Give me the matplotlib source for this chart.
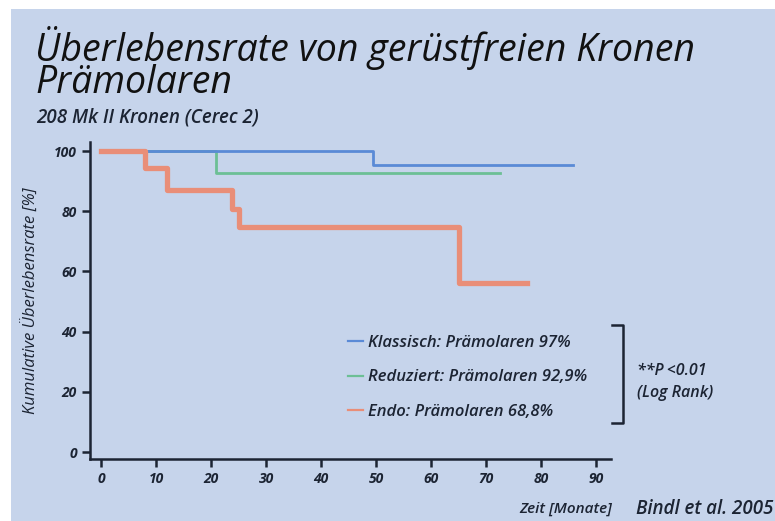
import matplotlib
matplotlib.use("Agg")
import matplotlib.pyplot as plt
from matplotlib.lines import Line2D
from matplotlib.patches import Rectangle

plt.rcParams["font.family"] = ["Open Sans", "DejaVu Sans"]

# Kaplan-Meier step data (months, cumulative survival %)
t_klassisch = [0, 49.4, 85.8]
s_klassisch = [100, 95.3, 95.3]
t_reduziert = [0, 20.9, 72.5]
s_reduziert = [100, 92.8, 92.8]
t_endo = [0, 8.0, 12.0, 23.8, 25.1, 65.1, 77.5]
s_endo = [100, 94.3, 87.0, 80.7, 74.7, 56.1, 56.1]

labels = ["Klassisch: Prämolaren 97%", "Reduziert: Prämolaren 92,9%", "Endo: Prämolaren 68,8%"]
x_ticks = [0, 10, 20, 30, 40, 50, 60, 70, 80, 90]
y_ticks = [0, 20, 40, 60, 80, 100]

BG = "#c6d4eb"
INK = "#1c2433"
C_BLUE, C_GREEN, C_RED = "#5a8ad6", "#6cbf95", "#e98e78"

W, H = 775, 521
fig = plt.figure(figsize=(W / 100, H / 100), dpi=100, facecolor="white")
fig.add_artist(Rectangle((11 / W, 0), 1, 1 - 9 / H, transform=fig.transFigure,
                         facecolor=BG, edgecolor="none", zorder=-10))

def fx(px): return px / W
def fy(py): return 1 - py / H

ax = fig.add_axes([fx(90), fy(459), fx(611) - fx(90), fy(142) - fy(459)])
ax.set_facecolor("none")
ax.set_xlim(-2, 92.7)
ax.set_ylim(-2.3, 103)

ax.step(t_reduziert, s_reduziert, where="post", color=C_GREEN, lw=2.0)
ax.step(t_klassisch, s_klassisch, where="post", color=C_BLUE, lw=2.0)
ax.step(t_endo, s_endo, where="post", color=C_RED, lw=3.8)

for side in ["top", "right"]:
    ax.spines[side].set_visible(False)
for side in ["left", "bottom"]:
    ax.spines[side].set_color(INK)
    ax.spines[side].set_linewidth(1.8)

ax.set_xticks(x_ticks)
ax.set_yticks(y_ticks)
ax.tick_params(axis="both", colors=INK, width=1.8, length=6, labelsize=10)
tick_font = dict(style="italic", weight="bold")
ax.set_xticklabels([str(v) for v in x_ticks], **tick_font)
ax.set_yticklabels([str(v) for v in y_ticks], **tick_font)
ax.set_ylabel("Kumulative Überlebensrate [%]", fontsize=12, style="italic", color=INK, labelpad=10)

handles = [Line2D([], [], color=c, lw=1.6) for c in (C_BLUE, C_GREEN, C_RED)]
leg = ax.legend(handles, labels, loc="upper left", bbox_to_anchor=(fx(333), fy(320)),
                bbox_transform=fig.transFigure, frameon=False, handlelength=0.9,
                handletextpad=0.3, labelspacing=1.1,
                prop=dict(family=["Open Sans", "DejaVu Sans"], style="italic", weight="semibold", size=12))
for txt in leg.get_texts():
    txt.set_color(INK)

# bracket with significance note
bx0, bx1, by0, by1 = fx(612), fx(623), fy(325), fy(423)
fig.add_artist(Line2D([bx0, bx1, bx1, bx0], [by0, by0, by1, by1], color=INK, lw=1.8,
                      transform=fig.transFigure))
fig.text(fx(637), fy(371), "**P\u2009<0.01", fontsize=11.5, style="italic", weight="semibold",
         color=INK, va="center", ha="left")
fig.text(fx(637), fy(393), "(Log Rank)", fontsize=11.5, style="italic", weight="semibold",
         color=INK, va="center", ha="left")

fig.text(fx(35), fy(26), "Überlebensrate von gerüstfreien Kronen\nPrämolaren", fontsize=27,
         style="italic", color="#111111", va="top", ha="left", linespacing=0.78)
fig.text(fx(36), fy(123), "208 Mk II Kronen (Cerec 2)", fontsize=13.5, style="italic",
         weight="semibold", color=INK, va="baseline", ha="left")

fig.text(fx(612), fy(513), "Zeit [Monate]", fontsize=11, style="italic", weight="semibold",
         color=INK, va="baseline", ha="right")
fig.text(fx(636), fy(514), "Bindl et al. 2005", fontsize=13.5, style="italic", weight="semibold",
         color=INK, va="baseline", ha="left")

fig.savefig("out.png", dpi=100, facecolor="white")
